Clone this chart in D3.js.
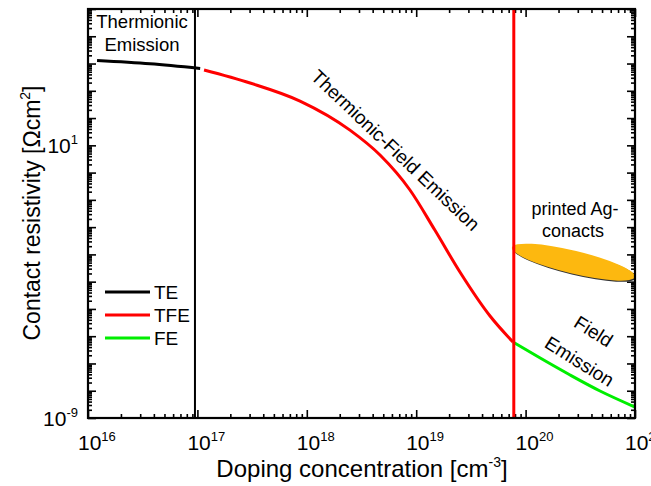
<!DOCTYPE html>
<html>
<head>
<meta charset="utf-8">
<script src="https://cdn.jsdelivr.net/npm/d3@7"></script>
<style>
  body { margin: 0; background: #fff; }
  svg text { font-family: "Liberation Sans", Arial, sans-serif; fill: #000; }
</style>
</head>
<body>
<div id="chart"></div>
<script>
// data
var xMajor = [1e16, 1e17, 1e18, 1e19, 1e20, 1e21];
var xLabelExp = ["16", "17", "18", "19", "20", "21"];
var yLabelTicks = [1e1, 1e-9];
var yLabelExp = ["1", "-9"];

var teN   = [1.21e16, 3.69e16, 1.06e17];
var teRho = [1.29e4, 9.8e3, 6.6e3];

var tfeN   = [1.15e17, 3.03e17, 8.67e17, 2.48e18, 4.67e18, 8.77e18, 1.48e19, 2.51e19, 4.73e19, 7.67e19];
var tfeRho = [5.8e3, 1.93e3, 4.2e2, 3.6e1, 4.4, 2.3e-1, 7.8e-3, 2.26e-4, 5.5e-6, 6.1e-7];

var feN   = [7.67e19, 1.36e20, 2.55e20, 4.79e20, 1e21];
var feRho = [6.1e-7, 1.58e-7, 3.78e-8, 9.8e-9, 2.53e-9];

var teLimit = 9.5e16, tfeLimit = 7.8e19;
var agN = [7.5e19, 1e21];
var agRho = [1.8e-3, 1.5e-4];

var legendNames = ["TE", "TFE", "FE"];
var colors = ["#000000", "#ff0000", "#00ee00"];

var W = 651, H = 486;
var m = {top: 9, right: 16, bottom: 68, left: 88};
var w = W - m.left - m.right, h = H - m.top - m.bottom;

var svg = d3.select("#chart").append("svg")
    .attr("width", W).attr("height", H);
var g = svg.append("g").attr("transform", "translate(" + m.left + "," + m.top + ")");

var x = d3.scaleLog().domain([1e16, 1e21]).range([0, w]);
var y = d3.scaleLog().domain([1e-9, 1e6]).range([h, 0]);

function minors(lo, hi) {
    var out = [];
    for (var e = lo; e < hi; e++)
        for (var k = 2; k <= 9; k++) out.push(k * Math.pow(10, e));
    return out;
}
var xMinor = minors(16, 21);
var yMinor = minors(-9, 6);
var yMajor = d3.range(-9, 7).map(function(e) { return Math.pow(10, e); });

function tickAxis(axis, vals, size, tr) {
    var a = g.append("g").attr("transform", tr)
        .call(axis.tickValues(vals).tickSize(size).tickSizeOuter(0).tickFormat(""));
    a.select(".domain").remove();
    a.selectAll("line").attr("stroke", "#000").attr("stroke-width", 1.6);
}
tickAxis(d3.axisBottom(x), xMinor, -4, "translate(0," + h + ")");
tickAxis(d3.axisBottom(x), xMajor, -8, "translate(0," + h + ")");
tickAxis(d3.axisTop(x), xMinor, -4, "translate(0,0)");
tickAxis(d3.axisTop(x), xMajor, -8, "translate(0,0)");
tickAxis(d3.axisLeft(y), yMinor, -4, "translate(0,0)");
tickAxis(d3.axisLeft(y), yMajor, -8, "translate(0,0)");
tickAxis(d3.axisRight(y), yMinor, -4, "translate(" + w + ",0)");
tickAxis(d3.axisRight(y), yMajor, -8, "translate(" + w + ",0)");

// ellipse for printed Ag contacts
var p1 = [x(agN[0]), y(agRho[0])], p2 = [x(agN[1]), y(agRho[1])];
var cx = (p1[0] + p2[0]) / 2, cy = (p1[1] + p2[1]) / 2;
var rx = Math.hypot(p2[0] - p1[0], p2[1] - p1[1]) / 2;
var ang = Math.atan2(p2[1] - p1[1], p2[0] - p1[0]) * 180 / Math.PI;
g.append("ellipse")
    .attr("cx", cx + 1).attr("cy", cy + 1.2).attr("rx", rx).attr("ry", 11.5)
    .attr("transform", "rotate(" + ang + "," + (cx + 1) + "," + (cy + 1.2) + ")")
    .attr("fill", "#333");
g.append("ellipse")
    .attr("cx", cx).attr("cy", cy).attr("rx", rx).attr("ry", 11.5)
    .attr("transform", "rotate(" + ang + "," + cx + "," + cy + ")")
    .attr("fill", "#fdb80f");

// curves
var line = d3.line()
    .x(function(d) { return x(d[0]); })
    .y(function(d) { return y(d[1]); })
    .curve(d3.curveMonotoneX);
[[teN, teRho], [tfeN, tfeRho], [feN, feRho]].forEach(function(s, i) {
    g.append("path")
        .datum(d3.zip(s[0], s[1]))
        .attr("d", line)
        .attr("fill", "none")
        .attr("stroke", colors[i])
        .attr("stroke-width", 3);
});

// region boundaries
g.append("line").attr("x1", x(teLimit)).attr("x2", x(teLimit))
    .attr("y1", 0).attr("y2", h).attr("stroke", "#000").attr("stroke-width", 2);
g.append("line").attr("x1", x(tfeLimit)).attr("x2", x(tfeLimit))
    .attr("y1", 0).attr("y2", h).attr("stroke", "#ff0000").attr("stroke-width", 3);

// frame
g.append("rect").attr("width", w).attr("height", h)
    .attr("fill", "none").attr("stroke", "#000").attr("stroke-width", 2.2);

// tick labels
xMajor.forEach(function(v, i) {
    var t = g.append("text").attr("x", x(v) - 10).attr("y", h + 32)
        .attr("font-size", 21);
    t.append("tspan").text("10");
    t.append("tspan").attr("dy", -9).attr("font-size", 13).text(xLabelExp[i]);
});
yLabelTicks.forEach(function(v, i) {
    var t = g.append("text").attr("x", -10).attr("y", y(v) + 8)
        .attr("text-anchor", "end").attr("font-size", 21);
    t.append("tspan").text("10");
    t.append("tspan").attr("dy", -9).attr("font-size", 13).text(yLabelExp[i]);
});

// axis titles
var xt = svg.append("text").attr("x", 362).attr("y", 477)
    .attr("text-anchor", "middle").attr("font-size", 24);
xt.append("tspan").text("Doping concentration [cm");
xt.append("tspan").attr("dy", -10).attr("font-size", 14).text("-3");
xt.append("tspan").attr("dy", 10).text("]");

var yt = svg.append("text").attr("transform", "translate(40," + (m.top + 204) + ") rotate(-90)")
    .attr("text-anchor", "middle").attr("font-size", 23);
yt.append("tspan").text("Contact resistivity [\u03A9cm");
yt.append("tspan").attr("dy", -10).attr("font-size", 14).text("2");
yt.append("tspan").attr("dy", 10).text("]");

// legend
legendNames.forEach(function(n, i) {
    var ly = 292 + i * 23;
    svg.append("line").attr("x1", 105).attr("x2", 150).attr("y1", ly).attr("y2", ly)
        .attr("stroke", colors[i]).attr("stroke-width", 3);
    svg.append("text").attr("x", 154).attr("y", ly + 7).attr("font-size", 19).text(n);
});

// annotations
function note(txt, px, py, rot, size) {
    svg.append("text").attr("text-anchor", "middle").attr("font-size", size || 18)
        .attr("transform", "translate(" + px + "," + py + ") rotate(" + (rot || 0) + ")")
        .text(txt);
}
note("Thermionic", 142, 28, 0, 18.5);
note("Emission", 142, 51, 0, 18.5);
note("Thermionic-Field Emission", 391, 155, 43.5, 19);
note("printed Ag-", 575, 215);
note("conacts", 573, 237);
note("Field", 590, 337, 32, 19);
note("Emission", 576, 367, 32, 19);
</script>
</body>
</html>
